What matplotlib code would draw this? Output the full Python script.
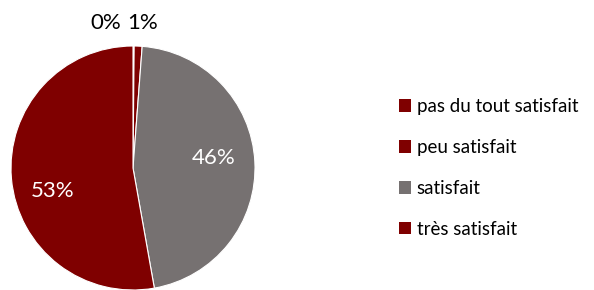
import matplotlib
matplotlib.use("Agg")
import matplotlib.pyplot as plt
from matplotlib.patches import Patch

categories = ["pas du tout satisfait", "peu satisfait", "satisfait", "très satisfait"]
values = [0.15, 1.05, 46.0, 52.8]
pct_labels = ["0%", "1%", "46%", "53%"]
colors = ["#7f0000", "#7f0000", "#767171", "#7f0000"]

plt.rcParams['font.family'] = ['Lato', 'DejaVu Sans']

fig = plt.figure(figsize=(5.94, 2.90), dpi=100)
R = 122
cx, cy = 133, 168
ax = fig.add_axes([(cx - R) / 594, (290 - cy - R) / 290, 2 * R / 594, 2 * R / 290])
wedges, _ = ax.pie(values, colors=colors, startangle=90, counterclock=False,
                   wedgeprops=dict(edgecolor="white", linewidth=0.8))
ax.set_xlim(-1, 1)
ax.set_ylim(-1, 1)
ax.set_aspect("equal")
ax.axis("off")

label_pos = [(-0.22, 1.19), (0.08, 1.19), (0.66, 0.08), (-0.66, -0.19)]
label_col = ["black", "black", "white", "white"]
for t, (x, y), c in zip(pct_labels, label_pos, label_col):
    ax.text(x, y, t, ha="center", va="center", fontsize=16, color=c, clip_on=False)

handles = [Patch(facecolor=c, edgecolor="none") for c in colors]
leg = fig.legend(handles, categories, loc="center left", bbox_to_anchor=(382 / 594, 1 - 168 / 290),
                 frameon=False, fontsize=13.5, handlelength=0.65, handleheight=0.65,
                 handletextpad=0.3, labelspacing=1.27)

fig.savefig("out.png", dpi=100)
